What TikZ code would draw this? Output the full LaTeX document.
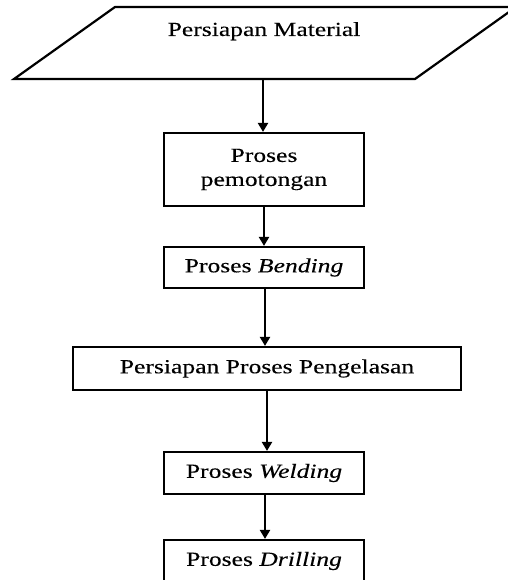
\documentclass[tikz,border=0pt]{standalone}
\usepackage{fontspec}
\setmainfont[FakeStretch=1.28, FakeBold=0.2]{Liberation Serif}
\usetikzlibrary{arrows.meta}
\tikzset{
  box/.style={draw=black, line width=2.2pt, inner sep=0pt, align=center, font=\fontsize{20}{24}\selectfont},
  lbl/.style={inner sep=0pt, font=\fontsize{20}{24}\selectfont},
  arr/.style={line width=2.2pt, -{Triangle[length=9pt,width=10pt]}},
}
\begin{document}
\begin{tikzpicture}[x=1pt,y=-1pt]
\useasboundingbox (0,0) rectangle (507,580);
% parallelogram
\draw[line width=2.2pt, line join=miter] (115,7) -- (516,7) -- (415,79) -- (14,79) -- cycle;
\node[lbl, anchor=base] (t0) at (264,36) {Persiapan Material};
\coordinate (p0) at (263,79);
% boxes
\node[box, minimum width=200pt, minimum height=73pt] (b1) at (264,169.5) {Proses\\pemotongan};
\node[box, minimum width=200pt, minimum height=41pt] (b2) at (264,267.5) {Proses \textit{Bending}};
\node[box, minimum width=388pt, minimum height=43pt] (b3) at (267,368.5) {Persiapan Proses Pengelasan};
\node[box, minimum width=200pt, minimum height=42pt] (b4) at (264,473) {Proses \textit{Welding}};
\node[box, minimum width=200pt, minimum height=42pt] (b5) at (264,561) {Proses \textit{Drilling}};
% arrows
\draw[arr] (p0) -- (p0 |- b1.north);
\draw[arr] (b1.south) -- (b1.south |- b2.north);
\draw[arr] ([xshift=1pt]b2.south) -- ([xshift=1pt]b2.south |- b3.north);
\draw[arr] (b3.south) -- (b3.south |- b4.north);
\draw[arr] ([xshift=1pt]b4.south) -- ([xshift=1pt]b4.south |- b5.north);
\end{tikzpicture}
\end{document}
